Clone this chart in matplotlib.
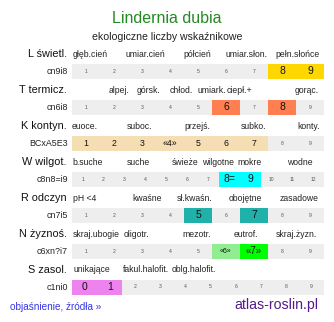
import matplotlib.pyplot as plt

plt.rcParams['font.family'] = ['Liberation Sans', 'DejaVu Sans']

# data
title = "Lindernia dubia"
subtitle = "ekologiczne liczby wskaźnikowe"
row_names = ["L świetl.", "T termicz.", "K kontyn.", "W wilgot.", "R odczyn", "N żyznoś.", "S zasol."]
row_codes = ["cn9i8", "cn6i8", "BCxA5E3", "c8n8=i9", "cn7i5", "c6xn?i7", "c1ni0"]
scales = [list(range(1, 10)), list(range(1, 10)), list(range(1, 10)), list(range(1, 13)),
          list(range(1, 10)), list(range(1, 10)), list(range(0, 10))]
# highlighted cells: value -> shown text
marked = [
    {8: "8", 9: "9"},
    {6: "6", 8: "8"},
    {1: "1", 2: "2", 3: "3", 4: "«4»", 5: "5", 6: "6", 7: "7"},
    {8: "8=", 9: "9"},
    {5: "5", 7: "7"},
    {6: "«6»", 7: "«7»"},
    {0: "0", 1: "1"},
]
categories = [
    ["głęb.cień", "umiar.cień", "półcień", "umiar.słon.", "pełn.słońce"],
    ["alpej.", "górsk.", "chłod.", "umiark.", "ciepł.+", "gorąc."],
    ["euoce.", "suboc.", "przejś.", "subko.", "konty."],
    ["b.suche", "suche", "świeże", "wilgotne", "mokre", "wodne"],
    ["pH <4", "kwaśne", "sł.kwaśn.", "obojętne", "zasadowe"],
    ["skraj.ubogie", "oligotr.", "mezotr.", "eutrof.", "skraj.żyzn."],
    ["unikające", "fakul.halofit.", "oblg.halofit."],
]

# layout / style
cat_x = [
    [73, 126, 183, 225, 275],
    [109, 137, 170, 198, 227, 295],
    [72, 127, 184, 241, 297],
    [72, 127, 172, 202, 237, 287],
    [73, 132, 177, 229, 280],
    [73, 124, 182, 234, 276],
    [73, 123, 172],
]
row_colors = ["#FFD700", "#FF7F50", "#F5DEB3", "#00FFFF", "#20B2AA", None, "#EE82EE"]
n_colors = {6: "#90EE90", 7: "#00FF00"}
big_size = [7.5, 7.5, 6.3, 7.5, 7.5, None, 7.5]
n_sizes = {6: 5.0, 7: 7.0}

W, H = 334, 322
fig = plt.figure(figsize=(W / 100, H / 100), dpi=100)
ax = fig.add_axes([0, 0, 1, 1])
ax.set_xlim(0, W)
ax.set_ylim(H, 0)
ax.axis('off')

x0, x1 = 72, 324
bar_h = 15

ax.text(W / 2, 18, title, ha='center', va='center', fontsize=11.5, color='#228B22')
ax.text(W / 2, 37, subtitle, ha='center', va='center', fontsize=7.6, color='#222222')

for i, name in enumerate(row_names):
    yc = 71 + 36 * i
    ylab = yc - 17
    ax.text(67, ylab, name, ha='right', va='center', fontsize=7.8, color='#111111')
    ax.text(68, yc, row_codes[i], ha='right', va='center', fontsize=6.4, color='#222222')
    for cx, cat in zip(cat_x[i], categories[i]):
        ax.text(cx, ylab, cat, ha='left', va='center', fontsize=6.2, color='#222222')
    vals = scales[i]
    n = len(vals)
    w = (x1 - x0) / n
    for j, v in enumerate(vals):
        left = x0 + j * w
        if v in marked[i]:
            col = n_colors[v] if i == 5 else row_colors[i]
            fs = n_sizes[v] if i == 5 else big_size[i]
            ax.barh(yc, w, left=left, height=bar_h, color=col, linewidth=0)
            ax.text(left + w / 2, yc, marked[i][v], ha='center', va='center',
                    fontsize=fs, color='#111111')
        else:
            ax.barh(yc, w, left=left, height=bar_h, color='#EEEEEE', linewidth=0)
            ax.text(left + w / 2, yc, str(v), ha='center', va='center',
                    fontsize=3.6, color='#555555')

ax.text(10, 307, "objaśnienie, źródła »", ha='left', va='center', fontsize=7.2, color='#3535E6')
ax.text(318, 305, "atlas-roslin.pl", ha='right', va='center', fontsize=10.2, color='#551A8B')

fig.savefig("out.png", dpi=100)
